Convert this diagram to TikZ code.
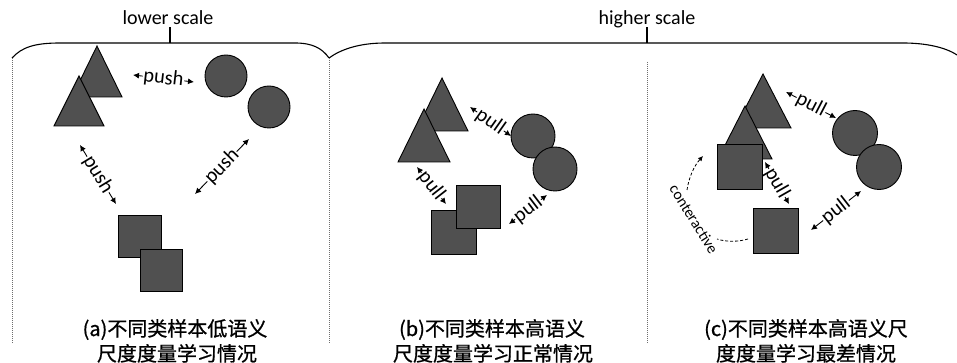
\documentclass[tikz,border=0pt]{standalone}
\usepackage{fontspec}
\setmainfont{Carlito}
\newfontfamily\cjk[FakeBold=0.8]{Noto Sans CJK SC}
\usetikzlibrary{arrows.meta}
\definecolor{shapegray}{RGB}{80,80,80}
\definecolor{sepgray}{RGB}{110,110,110}
\tikzset{
  shp/.style={draw=black, fill=shapegray, line width=0.9pt, line join=miter},
  brace/.style={draw=black, line width=1.1pt},
  sepline/.style={draw=sepgray, line width=0.9pt, dash pattern=on 1.2pt off 0.8pt},
  lbl/.style={font=\fontsize{20.5}{23}\selectfont, inner sep=0.6pt, sloped},
  arr/.style={line width=0.9pt, -{Latex[length=6pt,width=6pt]}},
  scaletxt/.style={font=\fontsize{20}{24}\selectfont, anchor=base, inner sep=0pt},
  captxt/.style={font=\cjk\fontsize{20}{24}\selectfont, anchor=base, inner sep=0pt},
  contra/.style={line width=0.8pt, dash pattern=on 3pt off 2pt},
}
\begin{document}
\begin{tikzpicture}[x=1pt,y=-1pt]
\useasboundingbox (0,0) rectangle (957,363);

% braces
\draw[brace] (12,58) .. controls (22,47) and (35,43) .. (60,43) -- (295,43)
  .. controls (312,43) and (322,48) .. (329,58);
\draw[brace] (329,58) .. controls (340,50) and (358,43) .. (385,43) -- (903,43)
  .. controls (925,43) and (945,47) .. (957,55);
\draw[brace] (170,43) -- (170,27);
\draw[brace] (647,43) -- (647,27);
\node[scaletxt] (ls) at (168,25) {lower scale};
\node[scaletxt] (hs) at (647,25) {higher scale};

% separators
\draw[sepline] (12,58) -- (12,343);
\draw[sepline] (329,58) -- (329,343);
\draw[sepline] (647,62) -- (647,343);

% ---------- panel (a)
\draw[shp] (97,46) -- (122,97) -- (72,97) -- cycle;
\draw[shp] (79,76) -- (104,126) -- (54,126) -- cycle;
\draw[shp] (226,76) circle (21);
\draw[shp] (269,107) circle (21);
\draw[shp] (118,215) rectangle (161,257);
\draw[shp] (140,249) rectangle (182,291);

\coordinate (a1s) at (133,75); \coordinate (a1e) at (194,82);
\coordinate (a2s) at (80,145); \coordinate (a2e) at (116,204);
\coordinate (a3s) at (195,194); \coordinate (a3e) at (249,139);
\path (a1s) -- node[lbl] (a1) {push} (a1e);
\path (a2s) -- node[lbl] (a2) {push} (a2e);
\path (a3s) -- node[lbl] (a3) {push} (a3e);
\foreach \n in {a1,a2,a3}{
  \draw[arr] (\n) -- (\n s);
  \draw[arr] (\n) -- (\n e);
}

% ---------- panel (b)
\draw[shp] (442,78) -- (468,131) -- (416,131) -- cycle;
\draw[shp] (424,109) -- (450,162) -- (398,162) -- cycle;
\draw[shp] (533,136) circle (22);
\draw[shp] (555,169) circle (22);
\draw[shp] (431,210) rectangle (476,254);
\draw[shp] (456,185) rectangle (500,228);

\coordinate (b1s) at (470,107); \coordinate (b1e) at (511,136);
\coordinate (b2s) at (417,167); \coordinate (b2e) at (446,204);
\coordinate (b3s) at (509,224); \coordinate (b3e) at (547,195);
\path (b1s) -- node[lbl] (b1) {pull} (b1e);
\path (b2s) -- node[lbl] (b2) {pull} (b2e);
\path (b3s) -- node[lbl] (b3) {pull} (b3e);
\foreach \n in {b1,b2,b3}{
  \draw[arr] (\n) -- (\n s);
  \draw[arr] (\n) -- (\n e);
}

% ---------- panel (c)
\draw[shp] (763,74) -- (791,128) -- (735,128) -- cycle;
\draw[shp] (745,106) -- (772,159) -- (718,159) -- cycle;
\draw[shp] (717,144) rectangle (762,189);
\draw[shp] (753,208) rectangle (798,253);
\draw[shp] (855,133) circle (22.5);
\draw[shp] (879,167) circle (22.5);

\coordinate (c1s) at (786,92); \coordinate (c1e) at (836,118);
\coordinate (c2s) at (765,162); \coordinate (c2e) at (789,204);
\coordinate (c3s) at (811,230); \coordinate (c3e) at (861,191);
\path (c1s) -- node[lbl] (c1) {pull} (c1e);
\path (c2s) -- node[lbl] (c2) {pull} (c2e);
\path (c3s) -- node[lbl] (c3) {pull} (c3e);
\foreach \n in {c1,c2,c3}{
  \draw[arr] (\n) -- (\n s);
  \draw[arr] (\n) -- (\n e);
}

% conteractive
\coordinate (ca) at (748,239);
\coordinate (cb) at (703,156);
\node[font=\fontsize{15.5}{18}\selectfont, rotate=-58, inner sep=0pt] (ct) at (694,219) {conteractive};
\draw[contra] (ca) .. controls (738,242) and (726,242) .. (717,239);
\draw[contra, -{Latex[length=5pt,width=5pt]}] (687,190) .. controls (689,177) and (694,166) .. (cb);

% captions
\node[captxt] (ca1) at (175,336) {(a)不同类样本低语义};
\node[captxt] (ca2) at (177,361) {尺度度量学习情况};
\node[captxt] (cb1) at (492,336) {(b)不同类样本高语义};
\node[captxt] (cb2) at (493,361) {尺度度量学习正常情况};
\node[captxt] (cc1) at (806,336) {(c)不同类样本高语义尺};
\node[captxt] (cc2) at (806,361) {度度量学习最差情况};
\end{tikzpicture}
\end{document}
